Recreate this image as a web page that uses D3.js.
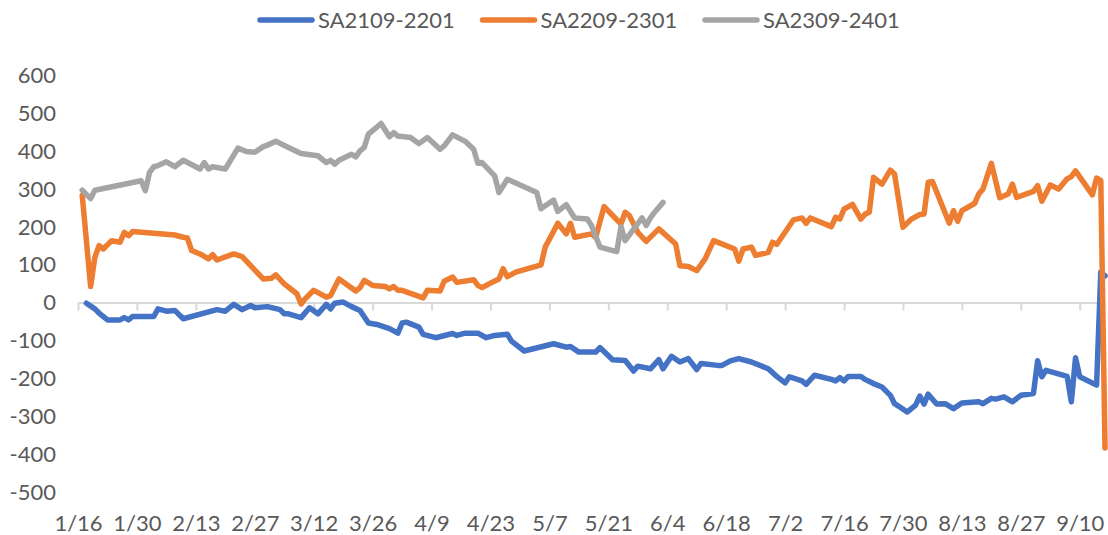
<!DOCTYPE html>
<html>
<head>
<meta charset="utf-8">
<script src="https://cdn.jsdelivr.net/npm/d3@7"></script>
<style>
  body { margin: 0; background: #fff; }
  text { font-family: Lato, "Open Sans", sans-serif; fill: #595959; }
</style>
</head>
<body>
<svg id="chart" width="1108" height="535"></svg>
<script>

var seriesNames = ['SA2109-2201', 'SA2209-2301', 'SA2309-2401'];
var seriesColors = ['#4472C4', '#ED7D31', '#A5A5A5'];

var yTicks = [-500, -400, -300, -200, -100, 0, 100, 200, 300, 400, 500, 600];
var xTickLabels = ['1/16', '1/30', '2/13', '2/27', '3/12', '3/26', '4/9', '4/23', '5/7',
  '5/21', '6/4', '6/18', '7/2', '7/16', '7/30', '8/13', '8/27', '9/10'];
var xDomain = ['1/16', '9/16'];

// SA2109-2201
var blueData = [
  ['1/18', -2], ['1/20', -17], ['1/21', -28], ['1/23', -46], ['1/26', -46], ['1/27', -40],
  ['1/28', -46], ['1/29', -37], ['2/3', -37], ['2/4', -17], ['2/6', -23], ['2/8', -21],
  ['2/10', -43], ['2/18', -19], ['2/20', -23], ['2/22', -5], ['2/24', -19], ['2/26', -8],
  ['2/27', -14], ['3/1', -11], ['3/4', -19], ['3/5', -30], ['3/6', -30], ['3/9', -40],
  ['3/11', -14], ['3/13', -30], ['3/15', -5], ['3/16', -17], ['3/17', -2], ['3/19', 1],
  ['3/21', -11], ['3/23', -21], ['3/25', -54], ['3/27', -58], ['3/30', -69], ['4/1', -81],
  ['4/2', -54], ['4/3', -52], ['4/6', -65], ['4/7', -84], ['4/10', -93], ['4/14', -82],
  ['4/15', -87], ['4/17', -81], ['4/20', -81], ['4/22', -93], ['4/24', -87], ['4/27', -84],
  ['4/28', -102], ['5/1', -128], ['5/8', -109], ['5/11', -118], ['5/12', -116], ['5/14', -131],
  ['5/18', -131], ['5/19', -119], ['5/22', -151], ['5/25', -153], ['5/27', -181], ['5/28', -168],
  ['5/31', -175], ['6/2', -151], ['6/3', -175], ['6/5', -142], ['6/7', -157], ['6/9', -148],
  ['6/11', -177], ['6/12', -161], ['6/16', -166], ['6/17', -166], ['6/19', -154], ['6/21', -148],
  ['6/24', -157], ['6/28', -175], ['6/30', -195], ['7/2', -212], ['7/3', -196], ['7/6', -207],
  ['7/7', -216], ['7/9', -192], ['7/13', -203], ['7/14', -207], ['7/15', -198], ['7/16', -207],
  ['7/17', -195], ['7/20', -195], ['7/21', -203], ['7/23', -214], ['7/25', -223], ['7/27', -245],
  ['7/28', -267], ['7/29', -274], ['7/31', -289], ['8/2', -271], ['8/3', -247], ['8/4', -268],
  ['8/5', -242], ['8/7', -268], ['8/9', -267], ['8/11', -280], ['8/13', -265], ['8/17', -262],
  ['8/18', -267], ['8/20', -253], ['8/21', -255], ['8/23', -249], ['8/25', -262], ['8/27', -245],
  ['8/30', -240], ['8/31', -154], ['9/1', -196], ['9/2', -179], ['9/7', -195], ['9/8', -262],
  ['9/9', -146], ['9/10', -196], ['9/14', -218], ['9/15', 80], ['9/16', 70]
];

// SA2209-2301
var orangeData = [
  ['1/17', 283], ['1/19', 42], ['1/20', 119], ['1/21', 150], ['1/22', 141], ['1/24', 163],
  ['1/26', 159], ['1/27', 185], ['1/28', 176], ['1/29', 187], ['2/8', 178], ['2/10', 172],
  ['2/11', 170], ['2/12', 137], ['2/14', 128], ['2/16', 115], ['2/17', 126], ['2/18', 112],
  ['2/22', 128], ['2/24', 121], ['2/29', 62], ['3/2', 64], ['3/3', 73], ['3/5', 49],
  ['3/8', 23], ['3/9', -4], ['3/10', 10], ['3/12', 32], ['3/15', 14], ['3/16', 18],
  ['3/18', 62], ['3/22', 30], ['3/23', 39], ['3/24', 58], ['3/26', 45], ['3/29', 42],
  ['3/30', 36], ['3/31', 42], ['4/1', 32], ['4/2', 32], ['4/7', 12], ['4/8', 32],
  ['4/11', 30], ['4/12', 56], ['4/14', 67], ['4/15', 53], ['4/19', 60], ['4/20', 45],
  ['4/21', 39], ['4/23', 51], ['4/25', 62], ['4/26', 89], ['4/27', 68], ['4/29', 80],
  ['5/5', 99], ['5/6', 146], ['5/9', 209], ['5/11', 181], ['5/12', 209], ['5/13', 172],
  ['5/17', 181], ['5/18', 172], ['5/20', 253], ['5/24', 207], ['5/25', 238], ['5/26', 229],
  ['5/28', 185], ['5/30', 161], ['6/2', 194], ['6/6', 154], ['6/7', 97], ['6/9', 95],
  ['6/11', 84], ['6/13', 115], ['6/15', 163], ['6/20', 141], ['6/21', 109], ['6/22', 141],
  ['6/24', 146], ['6/25', 124], ['6/28', 132], ['6/29', 159], ['6/30', 153], ['7/4', 218],
  ['7/6', 223], ['7/7', 209], ['7/8', 223], ['7/13', 200], ['7/14', 225], ['7/15', 220],
  ['7/16', 246], ['7/18', 259], ['7/20', 220], ['7/21', 233], ['7/22', 238], ['7/23', 330],
  ['7/25', 312], ['7/27', 349], ['7/28', 339], ['7/30', 198], ['8/1', 220], ['8/3', 232],
  ['8/4', 233], ['8/5', 317], ['8/6', 319], ['8/10', 209], ['8/11', 242], ['8/12', 214],
  ['8/13', 242], ['8/16', 261], ['8/17', 286], ['8/18', 299], ['8/20', 367], ['8/22', 276],
  ['8/24', 286], ['8/25', 312], ['8/26', 277], ['8/30', 293], ['8/31', 308], ['9/1', 267],
  ['9/3', 310], ['9/5', 299], ['9/7', 326], ['9/8', 332], ['9/9', 347], ['9/13', 284],
  ['9/14', 328], ['9/15', 322], ['9/16', -384]
];

// SA2309-2401
var grayData = [
  ['1/17', 296], ['1/19', 274], ['1/20', 296], ['1/31', 321], ['2/1', 295], ['2/2', 343],
  ['2/3', 358], ['2/4', 361], ['2/6', 371], ['2/8', 358], ['2/10', 375], ['2/14', 352],
  ['2/15', 369], ['2/16', 352], ['2/17', 358], ['2/20', 352], ['2/23', 407], ['2/25', 398],
  ['2/27', 396], ['2/29', 411], ['3/1', 415], ['3/3', 425], ['3/6', 409], ['3/9', 393],
  ['3/13', 387], ['3/15', 369], ['3/16', 375], ['3/17', 365], ['3/18', 375], ['3/21', 391],
  ['3/22', 384], ['3/23', 400], ['3/24', 409], ['3/25', 444], ['3/28', 472], ['3/30', 437],
  ['3/31', 448], ['4/1', 439], ['4/4', 435], ['4/6', 419], ['4/8', 435], ['4/11', 404],
  ['4/12', 413], ['4/14', 442], ['4/17', 425], ['4/19', 404], ['4/20', 367], ['4/21', 369],
  ['4/24', 334], ['4/25', 290], ['4/27', 325], ['5/4', 290], ['5/5', 247], ['5/8', 270],
  ['5/9', 240], ['5/11', 258], ['5/13', 223], ['5/16', 220], ['5/17', 203], ['5/19', 146],
  ['5/23', 134], ['5/24', 200], ['5/25', 163], ['5/29', 223], ['5/30', 203], ['5/31', 223],
  ['6/1', 238], ['6/3', 264]
];

var allSeries = [blueData, orangeData, grayData];

var parseDay = d3.timeParse('%m/%d/%Y');
function toDate(md) {
  return parseDay(md + '/2024');
}

var svg = d3.select('#chart');

var x = d3.scaleTime()
    .domain(xDomain.map(toDate))
    .range([78, 1105]);

var y = d3.scaleLinear()
    .domain([-500, 600])
    .range([492, 75]);

// y labels, no axis line
svg.append('g')
    .selectAll('text')
    .data(yTicks)
    .enter()
    .append('text')
    .attr('x', 56)
    .attr('y', function(d) { return y(d); })
    .attr('dy', '0.36em')
    .attr('text-anchor', 'end')
    .style('font-size', '22px')
    .text(function(d) { return d; });

// x axis sits on zero, labels pushed to the bottom
var y0 = y(0);
var xAxis = d3.axisBottom(x)
    .tickValues(xTickLabels.map(toDate))
    .tickSize(8)
    .tickSizeOuter(0)
    .tickFormat(d3.timeFormat('%-m/%-d'));

var gx = svg.append('g')
    .attr('transform', 'translate(0,' + y0 + ')')
    .call(xAxis);

gx.select('.domain')
    .attr('stroke', '#d9d9d9')
    .attr('stroke-width', 2);
gx.selectAll('.tick line')
    .attr('stroke', '#d9d9d9')
    .attr('stroke-width', 2);
gx.selectAll('.tick text')
    .attr('y', 523 - y0)
    .attr('dy', '0.36em')
    .attr('fill', null)
    .style('font-size', '22px')
    .style('font-family', 'Lato, sans-serif');

var line = d3.line()
    .x(function(d) { return x(toDate(d[0])); })
    .y(function(d) { return y(d[1]); });

svg.append('g')
    .selectAll('path')
    .data(allSeries)
    .enter()
    .append('path')
    .attr('d', line)
    .attr('fill', 'none')
    .attr('stroke', function(d, i) { return seriesColors[i]; })
    .attr('stroke-width', 5.5)
    .attr('stroke-linejoin', 'round')
    .attr('stroke-linecap', 'round');

// legend
var legend = svg.append('g')
    .selectAll('g')
    .data(seriesNames)
    .enter()
    .append('g')
    .attr('transform', function(d, i) { return 'translate(' + (260 + i * 222.5) + ',20)'; });

legend.append('line')
    .attr('x1', 0)
    .attr('x2', 52)
    .attr('stroke', function(d, i) { return seriesColors[i]; })
    .attr('stroke-width', 5.5)
    .attr('stroke-linecap', 'round');

legend.append('text')
    .attr('x', 58)
    .attr('dy', '0.36em')
    .style('font-size', '22px')
    .text(function(d) { return d; });

</script>
</body>
</html>
